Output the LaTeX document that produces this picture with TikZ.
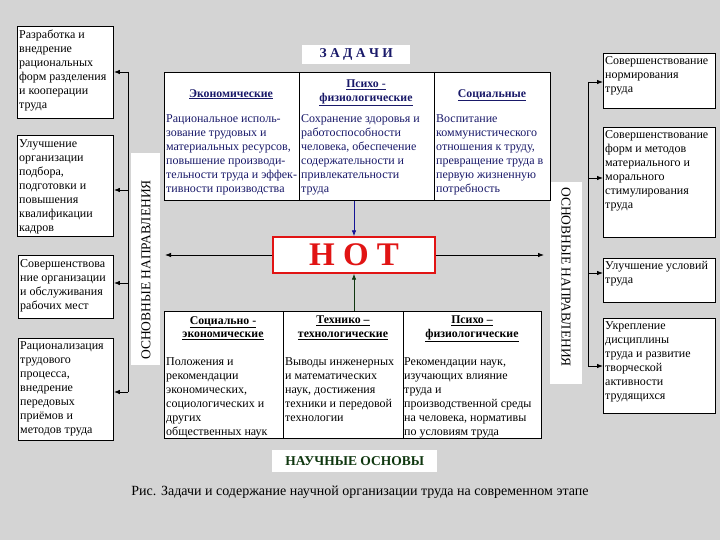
\documentclass[tikz,border=0pt]{standalone}
\usepackage{fontspec}
\setmainfont{Liberation Serif}
\usetikzlibrary{arrows.meta}
\definecolor{bg}{RGB}{212,212,212}
\definecolor{navy}{RGB}{25,25,105}
\definecolor{hotred}{RGB}{225,20,20}
\definecolor{bluearr}{RGB}{20,20,150}
\definecolor{greenarr}{RGB}{15,55,15}
\tikzset{
  box/.style={draw=black, line width=0.9pt, fill=white, anchor=north west, inner sep=0pt},
  txt/.style={font=\fontsize{12}{14}\selectfont, align=left, anchor=north west, inner sep=2pt},
  ttxt/.style={txt, text=navy},
  head/.style={font=\fontsize{11.8}{13.5}\selectfont\bfseries, align=center, anchor=north, inner sep=1pt},
  arr/.style={-{Latex[length=6pt,width=4.5pt]}, line width=0.8pt},
  bus/.style={line width=0.8pt},
  label/.style={fill=white, anchor=north west, inner sep=0pt},
}
\begin{document}
\begin{tikzpicture}[x=1pt,y=-1pt]
\fill[bg] (0,0) rectangle (720,540);
\useasboundingbox (0,0) rectangle (720,540);

% ---------- left boxes ----------
\node[box, minimum width=96, minimum height=92] (l1) at (17,26) {};
\node[txt] (l1t) at ([yshift=-2]l1.north west) {Разработка и\\внедрение\\рациональных\\форм разделения\\и кооперации\\труда};
\node[box, minimum width=96, minimum height=101] (l2) at (17,135) {};
\node[txt] (l2t) at ([yshift=-2]l2.north west) {Улучшение\\организации\\подбора,\\подготовки и\\повышения\\квалификации\\кадров};
\node[box, minimum width=95, minimum height=63] (l3) at (18,255) {};
\node[txt] (l3t) at ([yshift=-2]l3.north west) {Совершенствова\\ние организации\\и обслуживания\\рабочих мест};
\node[box, minimum width=95, minimum height=102] (l4) at (18,338) {};
\node[txt] (l4t) at ([yshift=-1]l4.north west) {Рационализация\\трудового\\процесса,\\внедрение\\передовых\\приёмов и\\методов труда};

% ---------- right boxes ----------
\node[box, minimum width=112, minimum height=55] (r1) at (603,53) {};
\node[txt] (r1t) at ([yshift=-1]r1.north west) {Совершенствование\\нормирования\\труда};
\node[box, minimum width=112, minimum height=110] (r2) at (603,127) {};
\node[txt] (r2t) at ([yshift=-1]r2.north west) {Совершенствование\\форм и методов\\материального и\\морального\\стимулирования\\труда};
\node[box, minimum width=112, minimum height=44] (r3) at (603,258) {};
\node[txt] (r3t) at ([yshift=-1]r3.north west) {Улучшение условий\\труда};
\node[box, minimum width=112, minimum height=95] (r4) at (603,318) {};
\node[txt] (r4t) at ([yshift=-1]r4.north west) {Укрепление\\дисциплины\\труда и развитие\\творческой\\активности\\трудящихся};

% ---------- vertical labels ----------
\node[label, minimum width=29, minimum height=212] (ll) at (131,153) {};
\node[rotate=90, font=\fontsize{13.5}{15}\selectfont] (llt) at (146,270) {ОСНОВНЫЕ НАПРАВЛЕНИЯ};
\node[label, minimum width=32, minimum height=202] (rl) at (550,182) {};
\node[rotate=-90, font=\fontsize{13.5}{15}\selectfont] (rlt) at (566,277) {ОСНОВНЫЕ НАПРАВЛЕНИЯ};

% ---------- ZADACHI ----------
\node[label, minimum width=108, minimum height=19] (zad) at (302,45) {};
\node[font=\fontsize{13.5}{15}\selectfont\bfseries, text=navy] (zadt) at (zad.center) {З А Д А Ч И};

% ---------- top table ----------
\node[box, minimum width=386, minimum height=128] (tt) at (164,72) {};
\draw[line width=0.9pt] (299,72) coordinate (td1a) -- (299,200) coordinate (td1b);
\draw[line width=0.9pt] (434,72) coordinate (td2a) -- (434,200) coordinate (td2b);
\node[head, text=navy] (th1) at (231,88) {\underline{Экономические}};
\node[head, text=navy] (th2) at (366,79) {\underline{Психо -}\\\underline{физиологические}};
\node[head, text=navy] (th3) at (492,88) {\underline{Социальные}};
\node[ttxt] (tb1) at (164,112) {Рациональное исполь-\\зование трудовых и\\материальных ресурсов,\\повышение производи-\\тельности труда и эффек-\\тивности производства};
\node[ttxt] (tb2) at (299,112) {Сохранение здоровья и\\работоспособности\\человека, обеспечение\\содержательности и\\привлекательности\\труда};
\node[ttxt] (tb3) at (434,112) {Воспитание\\коммунистического\\отношения к труду,\\превращение труда в\\первую жизненную\\потребность};

% ---------- HOT ----------
\node[draw=hotred, line width=1.3pt, fill=white, minimum width=162, minimum height=36, inner sep=0pt, font=\fontsize{33}{35}\selectfont\bfseries, text=hotred] (hot) at (354,255) {Н О Т};

% ---------- bottom table ----------
\node[box, minimum width=377, minimum height=127] (bt) at (164,311) {};
\draw[line width=0.9pt] (283,311) coordinate (bd1a) -- (283,438) coordinate (bd1b);
\draw[line width=0.9pt] (403,311) coordinate (bd2a) -- (403,438) coordinate (bd2b);
\node[head] (bh1) at (223,315) {\underline{Социально -}\\\underline{экономические}};
\node[head] (bh2) at (343,315) {\underline{Технико –}\\\underline{технологические}};
\node[head] (bh3) at (472,315) {\underline{Психо –}\\\underline{физиологические}};
\node[txt] (bb1) at (164,355) {Положения и\\рекомендации\\экономических,\\социологических и\\других\\общественных наук};
\node[txt] (bb2) at (283,355) {Выводы инженерных\\и математических\\наук, достижения\\техники и передовой\\технологии};
\node[txt] (bb3) at (402,355) {Рекомендации наук,\\изучающих влияние\\труда и\\производственной среды\\на человека, нормативы\\по условиям труда};

% ---------- NAUCHNYE OSNOVY ----------
\node[label, minimum width=165, minimum height=22] (no) at (272,450) {};
\node[font=\fontsize{13.5}{15}\selectfont\bfseries, text=greenarr] (not) at (no.center) {НАУЧНЫЕ ОСНОВЫ};

% ---------- caption ----------
\node[font=\fontsize{14}{16}\selectfont] (cap) at (360,492) {Рис. Задачи и содержание научной организации труда на современном этапе};

% ---------- connectors ----------
\coordinate (lbt) at (128,72);
\coordinate (lbb) at (128,392);
\draw[bus] (lbt) -- (lbb);
\draw[arr] (lbt) -- (l1.east |- lbt);
\draw[arr] (128,190) coordinate (lb2) -- (l2.east |- lb2);
\draw[arr] (128,283) coordinate (lb3) -- (l3.east |- lb3);
\draw[arr] (lbb) -- (l4.east |- lbb);

\coordinate (rbt) at (588,82);
\coordinate (rbb) at (588,366);
\draw[bus] (rbt) -- (rbb);
\draw[arr] (rbt) -- (r1.west |- rbt);
\draw[arr] (588,178) coordinate (rb2) -- (r2.west |- rb2);
\draw[arr] (588,273) coordinate (rb3) -- (r3.west |- rb3);
\draw[arr] (rbb) -- (r4.west |- rbb);

\coordinate (hl) at (165,255);
\coordinate (hr) at (544,255);
\draw[arr] (hot.west) -- (hl);
\draw[arr] (hot.east) -- (hr);
\draw[arr, bluearr] (hot.north |- tt.south) -- (hot.north);
\draw[arr, greenarr] (hot.south |- bt.north) -- (hot.south);
\end{tikzpicture}
\end{document}
